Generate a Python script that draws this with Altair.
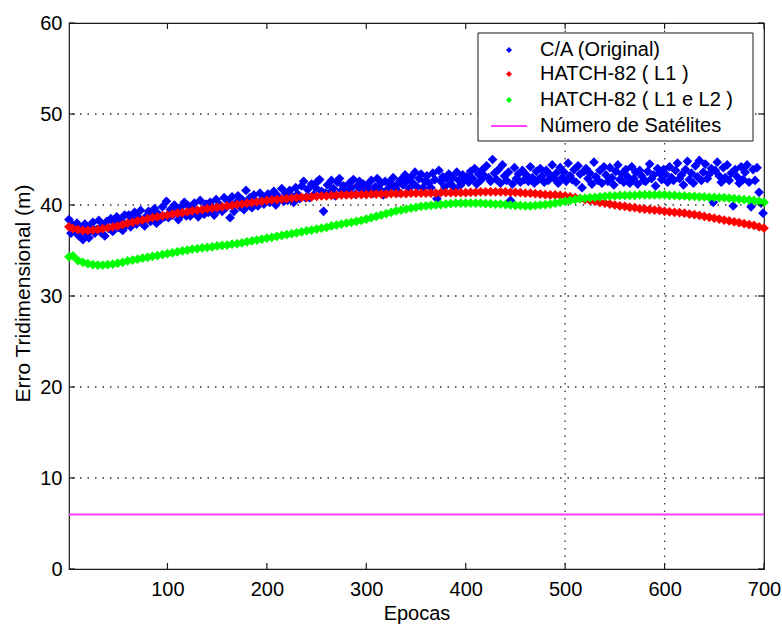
import altair as alt
import pandas as pd

# ---- series names and styles ----
SERIES = ["C/A (Original)", "HATCH-82 ( L1 )", "HATCH-82 ( L1 e L2 )", "Número de Satélites"]
COLORS = ["#0000ff", "#ff0000", "#00ff00", "#ff40ff"]

# ---- C/A (Original): 3D error every second epoch ----
ca_epochs = list(range(1, 700, 2))
ca_error = [
    38.4, 36.9, 37.8, 37.1, 38.0, 36.6, 37.4, 36.2, 37.9, 36.8,
    36.4, 37.6, 38.1, 36.9, 37.3, 38.3, 37.0, 37.7, 36.6, 38.2,
    37.4, 38.5, 37.1, 38.0, 38.7, 37.5, 38.3, 37.2, 38.9, 37.8,
    38.9, 37.6, 38.4, 39.2, 37.9, 38.6, 39.4, 38.1, 37.7, 38.8,
    39.3, 38.2, 38.9, 39.6, 38.0, 39.0, 38.4, 39.8, 38.7, 40.4,
    38.6, 39.5, 38.9, 40.0, 39.2, 38.4, 39.7, 39.0, 40.3, 38.8,
    39.9, 38.8, 39.6, 40.2, 39.1, 38.7, 40.5, 39.4, 39.0, 40.1,
    39.2, 40.3, 39.8, 38.9, 40.6, 39.5, 40.0, 39.3, 40.8, 39.7,
    40.4, 38.6, 40.9, 39.3, 40.2, 41.0, 39.8, 40.6, 39.5, 41.6,
    40.0, 40.8, 39.7, 41.1, 40.4, 39.9, 41.3, 40.6, 40.1, 40.9,
    41.2, 40.3, 40.9, 41.5, 40.0, 41.0, 40.6, 41.8, 40.4, 41.3,
    40.5, 41.6, 41.0, 40.3, 41.9, 41.2, 40.7, 42.1, 42.6, 40.8,
    41.7, 40.8, 42.3, 41.1, 41.9, 42.6, 42.8, 41.5, 39.3, 41.3,
    42.2, 41.3, 42.7, 41.8, 41.0, 42.5, 42.9, 41.6, 42.1, 41.2,
    41.5, 42.4, 41.9, 42.8, 41.2, 42.1, 42.6, 41.7, 42.3, 41.4,
    42.2, 41.6, 42.7, 41.3, 42.0, 42.9, 41.8, 42.4, 41.1, 42.6,
    41.7, 42.5, 42.1, 43.0, 41.9, 42.3, 41.4, 42.8, 42.2, 43.3,
    42.7, 41.8, 43.1, 42.4, 43.6, 42.0, 42.9, 43.4, 41.9, 42.6,
    43.2, 42.4, 41.9, 43.5, 42.8, 40.7, 43.8, 42.6, 43.1, 42.0,
    42.9, 43.4, 42.3, 43.0, 41.8, 43.6, 42.7, 42.2, 43.3, 42.8,
    43.1, 42.5, 43.7, 42.9, 44.0, 42.3, 43.4, 42.7, 43.9, 43.2,
    44.3, 43.0, 42.6, 45.0, 43.5, 42.8, 43.9, 42.4, 44.4, 43.2,
    42.7, 43.6, 40.5, 42.3, 44.1, 42.9, 43.4, 42.5, 43.8, 42.8,
    43.3, 42.6, 44.2, 43.0, 42.4, 43.7, 42.8, 44.0, 43.2, 42.5,
    43.8, 42.7, 43.3, 44.4, 42.9, 43.5, 42.4, 44.1, 43.0, 43.6,
    42.6, 44.6, 43.2, 42.8, 43.9, 42.5, 44.3, 43.4, 41.9, 43.7,
    44.0, 42.9, 43.5, 42.3, 44.7, 43.1, 42.7, 43.8, 42.4, 44.2,
    43.3, 42.6, 44.1, 43.0, 42.2, 43.7, 44.4, 42.8, 43.4, 42.5,
    43.9, 43.1, 42.4, 44.2, 42.9, 43.6, 42.3, 43.8, 43.2, 42.7,
    42.6, 43.7, 44.5, 42.9, 43.3, 42.1, 44.0, 43.5, 42.8, 43.9,
    43.4, 42.5, 44.2, 43.0, 42.7, 43.8, 44.6, 42.9, 43.3, 42.2,
    43.9, 44.8, 42.8, 43.5, 42.4, 44.3, 43.1, 44.9, 42.7, 43.6,
    44.5, 42.9, 43.4, 44.0, 40.3, 43.8, 44.7, 43.2, 42.5, 44.1,
    43.0, 44.4, 42.7, 43.5, 39.9, 43.9, 43.1, 42.4, 44.2, 42.8,
    43.6, 44.4, 42.5, 39.8, 43.9, 42.7, 44.1, 41.4, 40.2, 39.1,
]

# ---- Hatch-filtered solutions, every fifth epoch ----
hatch_epochs = [1] + list(range(5, 701, 5))
hatch_l1 = [
    37.6,
    37.4, 37.3, 37.2, 37.2, 37.25, 37.3, 37.4, 37.5, 37.6, 37.7,
    37.85, 38.0, 38.1, 38.25, 38.35, 38.5, 38.6, 38.7, 38.8, 38.9,
    39.0, 39.1, 39.15, 39.25, 39.35, 39.45, 39.5, 39.6, 39.65, 39.75,
    39.8, 39.9, 39.95, 40.05, 40.1, 40.2, 40.25, 40.35, 40.4, 40.5,
    40.55, 40.6, 40.65, 40.7, 40.75, 40.8, 40.85, 40.85, 40.9, 40.95,
    41.0, 41.0, 41.05, 41.05, 41.1, 41.1, 41.1, 41.15, 41.15, 41.15,
    41.2, 41.2, 41.2, 41.2, 41.25, 41.25, 41.25, 41.25, 41.3, 41.3,
    41.3, 41.3, 41.3, 41.3, 41.35, 41.35, 41.35, 41.35, 41.35, 41.35,
    41.4, 41.4, 41.45, 41.45, 41.45, 41.45, 41.45, 41.45, 41.4, 41.4,
    41.35, 41.3, 41.3, 41.25, 41.2, 41.15, 41.1, 41.1, 41.05, 41.0,
    40.9, 40.8, 40.7, 40.6, 40.5, 40.4, 40.3, 40.2, 40.1, 40.0,
    39.9, 39.85, 39.75, 39.7, 39.6, 39.55, 39.5, 39.45, 39.4, 39.3,
    39.25, 39.2, 39.15, 39.1, 39.0, 38.95, 38.85, 38.75, 38.65, 38.55,
    38.45, 38.35, 38.25, 38.15, 38.05, 37.95, 37.85, 37.75, 37.6, 37.45,
]
hatch_l1l2 = [
    34.3,
    34.4, 33.9, 33.7, 33.55, 33.45, 33.4, 33.4, 33.45, 33.5, 33.6,
    33.7, 33.85, 33.95, 34.05, 34.15, 34.25, 34.35, 34.45, 34.55, 34.65,
    34.75, 34.85, 34.95, 35.05, 35.15, 35.2, 35.3, 35.35, 35.4, 35.5,
    35.55, 35.6, 35.7, 35.75, 35.85, 35.95, 36.05, 36.15, 36.25, 36.35,
    36.45, 36.55, 36.65, 36.75, 36.85, 36.95, 37.05, 37.15, 37.25, 37.35,
    37.45, 37.55, 37.7, 37.8, 37.9, 38.0, 38.1, 38.2, 38.3, 38.45,
    38.6, 38.75, 38.9, 39.05, 39.2, 39.35, 39.45, 39.55, 39.65, 39.75,
    39.85, 39.9, 39.95, 40.0, 40.05, 40.1, 40.15, 40.2, 40.2, 40.2,
    40.2, 40.2, 40.2, 40.15, 40.15, 40.1, 40.1, 40.05, 40.0, 39.95,
    39.95, 39.9, 39.9, 39.95, 40.0, 40.05, 40.1, 40.2, 40.3, 40.4,
    40.5, 40.6, 40.7, 40.75, 40.8, 40.85, 40.9, 40.95, 41.0, 41.0,
    41.05, 41.05, 41.05, 41.05, 41.1, 41.1, 41.1, 41.1, 41.1, 41.1,
    41.05, 41.05, 41.0, 41.0, 40.95, 40.95, 40.9, 40.9, 40.85, 40.85,
    40.8, 40.8, 40.75, 40.7, 40.65, 40.6, 40.55, 40.5, 40.4, 40.3,
]

# ---- number of satellites in view (constant over the session) ----
sat_epochs = [1, 700]
sat_count = [6, 6]

# ---- axes ----
x_ticks = [100, 200, 300, 400, 500, 600, 700]
y_ticks = [0, 10, 20, 30, 40, 50, 60]
x_grid = [500, 600]
y_grid = [10, 20, 30, 40, 50]

W, H = 695, 546
FONT = "Liberation Sans"
INK = "#1a1a1a"

points = pd.concat([
    pd.DataFrame({"epoca": ca_epochs, "erro": ca_error, "serie": SERIES[0]}),
    pd.DataFrame({"epoca": hatch_epochs, "erro": hatch_l1, "serie": SERIES[1]}),
    pd.DataFrame({"epoca": hatch_epochs, "erro": hatch_l1l2, "serie": SERIES[2]}),
], ignore_index=True)
sats = pd.DataFrame({"epoca": sat_epochs, "n": sat_count})

xs = alt.Scale(domain=[1, 700], nice=False, zero=False)
ys = alt.Scale(domain=[0, 60], nice=False)

# one axis definition shared by every layer, so the merged axes keep it
X_AXIS = alt.Axis(values=x_ticks, ticks=False, grid=False, domain=False,
                  labelFlush=False, labelOverlap=False,
                  labelFont=FONT, labelFontSize=20, labelColor="black",
                  labelPadding=10, titleFont=FONT, titleFontSize=20,
                  titleFontWeight="normal", titleColor="black",
                  titleBaseline="alphabetic", titleY=50)
Y_AXIS = alt.Axis(values=y_ticks, ticks=False, grid=False, domain=False,
                  labelFlush=False, labelOverlap=False,
                  labelFont=FONT, labelFontSize=20, labelColor="black",
                  labelPadding=7, titleFont=FONT, titleFontSize=21,
                  titleFontWeight="normal", titleColor="black",
                  titleBaseline="alphabetic", titleX=-40, titleY=270)
X_TITLE = "Epocas"
Y_TITLE = "Erro Tridimensional (m)"


def xenc(field):
    return alt.X(field, scale=xs, axis=X_AXIS, title=X_TITLE)


def yenc(field):
    return alt.Y(field, scale=ys, axis=Y_AXIS, title=Y_TITLE)


dotted = dict(strokeDash=[1.5, 6], color="#333333", strokeWidth=1.3)
hgrid = alt.Chart(pd.DataFrame({"v": y_grid})).mark_rule(**dotted).encode(y=yenc("v:Q"))
vgrid = alt.Chart(pd.DataFrame({"v": x_grid})).mark_rule(**dotted).encode(x=xenc("v:Q"))

sat_line = alt.Chart(sats).mark_line(color=COLORS[3], strokeWidth=2).encode(
    x=xenc("epoca:Q"), y=yenc("n:Q"))

marks = alt.Chart(points).mark_point(filled=True, shape="diamond", size=95, opacity=1).encode(
    x=xenc("epoca:Q"),
    y=yenc("erro:Q"),
    color=alt.Color("serie:N", scale=alt.Scale(domain=SERIES[:3], range=COLORS[:3]), legend=None),
)

# inward tick marks on all four sides of the box
tick = dict(color=INK, strokeWidth=1.2)
xt = alt.Chart(pd.DataFrame({"v": x_ticks}))
yt = alt.Chart(pd.DataFrame({"v": y_ticks}))
xb = xt.mark_rule(**tick).encode(x=xenc("v:Q"), y=alt.value(H), y2=alt.value(H - 6))
xtop = xt.mark_rule(**tick).encode(x=xenc("v:Q"), y=alt.value(0), y2=alt.value(6))
yl = yt.mark_rule(**tick).encode(y=yenc("v:Q"), x=alt.value(0), x2=alt.value(6))
yr = yt.mark_rule(**tick).encode(y=yenc("v:Q"), x=alt.value(W), x2=alt.value(W - 6))

# legend box in the upper right corner of the plot
one = pd.DataFrame({"k": [0]})
LEG_X0, LEG_X1, LEG_Y0, LEG_Y1 = 409, 684, 10, 118
ROW_Y = [27, 51, 77, 103]
SYM_X, TXT_X = 440, 471
legend_layers = [
    alt.Chart(one).mark_rect(fill="white", stroke=INK, strokeWidth=1).encode(
        x=alt.value(LEG_X0), x2=alt.value(LEG_X1), y=alt.value(LEG_Y0), y2=alt.value(LEG_Y1))
]
for i in range(3):
    legend_layers.append(
        alt.Chart(one).mark_point(filled=True, shape="diamond", size=36, opacity=1,
                                  color=COLORS[i]).encode(x=alt.value(SYM_X), y=alt.value(ROW_Y[i])))
legend_layers.append(
    alt.Chart(one).mark_rule(color=COLORS[3], strokeWidth=2).encode(
        x=alt.value(SYM_X - 18), x2=alt.value(SYM_X + 18), y=alt.value(ROW_Y[3])))
for i in range(4):
    legend_layers.append(
        alt.Chart(one).mark_text(align="left", baseline="middle", font=FONT, fontSize=20,
                                 color="black").encode(
            x=alt.value(TXT_X), y=alt.value(ROW_Y[i]), text=alt.value(SERIES[i])))

chart = alt.layer(hgrid, vgrid, sat_line, marks, xb, xtop, yl, yr, *legend_layers).properties(
    width=W, height=H,
    autosize=alt.AutoSizeParams(type="none"),
    padding={"left": 69, "top": 23, "right": 18, "bottom": 56},
).configure_view(stroke=INK, strokeWidth=1.2)

chart.save("out.html", embed_options={"renderer": "svg", "actions": False})
